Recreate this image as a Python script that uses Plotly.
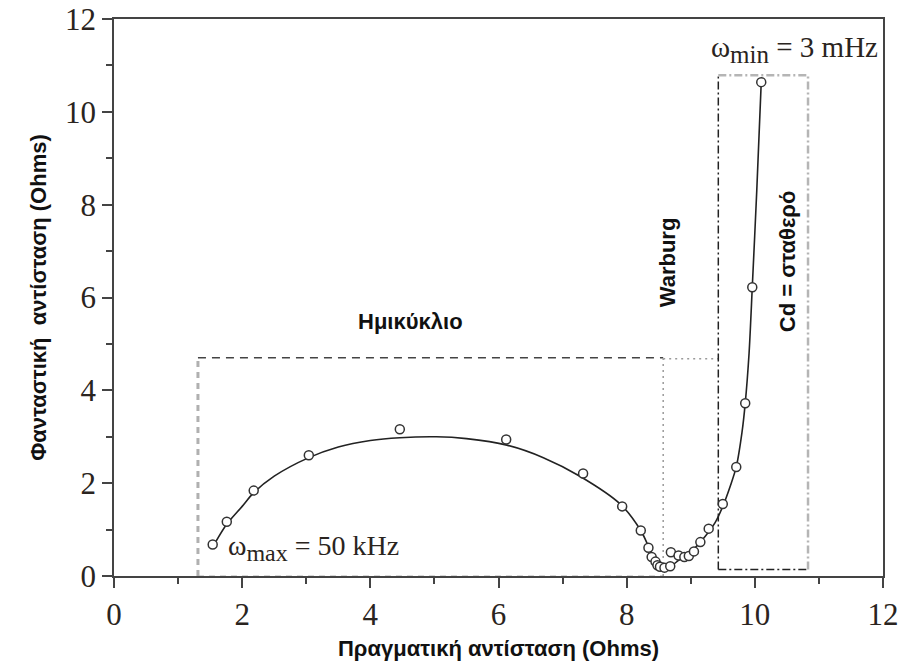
import plotly.graph_objects as go

# Measured impedance points (Nyquist plot)
z_real = [1.54, 1.76, 2.18, 3.04, 4.46, 6.12, 7.32, 7.93, 8.22, 8.34, 8.39, 8.45, 8.48,
          8.52, 8.59, 8.68, 8.69, 8.81, 8.90, 8.97, 9.05, 9.15, 9.28, 9.50, 9.71, 9.85,
          9.96, 10.10]
z_imag = [0.68, 1.17, 1.84, 2.60, 3.16, 2.94, 2.21, 1.50, 0.98, 0.61, 0.41, 0.31, 0.23,
          0.20, 0.18, 0.21, 0.51, 0.44, 0.41, 0.43, 0.53, 0.73, 1.02, 1.55, 2.35, 3.72,
          6.22, 10.64]

# Fitted model curve
fit_real = [1.58, 1.75, 2.00, 2.17, 2.50, 3.04, 3.50, 4.00, 4.46, 5.03, 5.50, 6.13, 6.70,
            7.27, 7.90, 8.22, 8.34, 8.45, 8.52, 8.60, 8.70, 8.83, 9.00, 9.15, 9.38, 9.50,
            9.62, 9.71, 9.80, 9.85, 9.91, 9.96, 10.03, 10.10]
fit_imag = [0.72, 1.10, 1.50, 1.78, 2.15, 2.55, 2.78, 2.92, 2.98, 3.00, 2.96, 2.82, 2.55,
            2.15, 1.55, 0.98, 0.64, 0.32, 0.20, 0.16, 0.22, 0.36, 0.52, 0.73, 1.15, 1.50,
            1.95, 2.35, 3.10, 3.72, 4.80, 6.22, 8.30, 10.64]

# Region boundaries
semi_x = [1.31, 8.57]
semi_top = 4.70
warb_x = [8.57, 9.43]
warb_top = 4.68
cd_x = [9.43, 10.83]
cd_y = [0.14, 10.79]

tick_vals = [0, 2, 4, 6, 8, 10, 12]
x_title = "Πραγματική αντίσταση (Ohms)"
y_title = "Φανταστική  αντίσταση (Ohms)"

fig = go.Figure()

def seg(x, y, color, width, dash):
    fig.add_trace(go.Scatter(x=x, y=y, mode="lines", hoverinfo="skip",
                             line=dict(color=color, width=width, dash=dash),
                             showlegend=False, cliponaxis=False))

# Semicircle region box
seg([semi_x[0], semi_x[0]], [0, semi_top], "#b0b0b0", 3, "6px,5px")
seg([semi_x[0], semi_x[1]], [semi_top, semi_top], "#444444", 1.5, "8px,6px")
seg([semi_x[0], semi_x[1]], [-0.02, -0.02], "#b0b0b0", 3, "6px,5px")
# Warburg region
seg([warb_x[0], warb_x[0]], [0, warb_top], "#9a9a9a", 1.5, "2px,4px")
seg([warb_x[0], warb_x[1]], [warb_top, warb_top], "#9a9a9a", 1.5, "2px,4px")
# Cd region box
seg([cd_x[0], cd_x[0]], [cd_y[0], cd_y[1]], "#222222", 1.5, "8px,3px,2px,3px")
seg([cd_x[0], cd_x[1]], [cd_y[0], cd_y[0]], "#222222", 1.5, "8px,3px,2px,3px")
seg([cd_x[0], cd_x[1]], [cd_y[1], cd_y[1]], "#b5b5b5", 2.5, "8px,3px,2px,3px")
seg([cd_x[1], cd_x[1]], [cd_y[0], cd_y[1]], "#b5b5b5", 2.5, "8px,3px,2px,3px")

# Fit line
fig.add_trace(go.Scatter(x=fit_real, y=fit_imag, mode="lines",
                         line=dict(color="#222222", width=1.6, shape="spline", smoothing=0.8),
                         showlegend=False, hoverinfo="skip"))
# Data points
fig.add_trace(go.Scatter(x=z_real, y=z_imag, mode="markers",
                         marker=dict(symbol="circle", size=9, color="white",
                                     line=dict(color="#333333", width=1.5)),
                         showlegend=False))

sans_b = dict(family="Liberation Sans", size=22, color="#111111")
serif = dict(family="Liberation Serif", size=28, color="#2a2420")

fig.add_annotation(x=4.62, y=5.49, text="<b>Ημικύκλιο</b>", showarrow=False, font=sans_b)
fig.add_annotation(x=8.63, y=6.76, text="<b>Warburg</b>", showarrow=False, font=sans_b,
                   textangle=-90)
fig.add_annotation(x=10.5, y=6.78, text="<b>Cd = σταθερό</b>", showarrow=False, font=sans_b,
                   textangle=-90)
fig.add_annotation(x=1.75, y=0.6, showarrow=False,
                   text="ω<sub><span style='font-size:24px'>max</span></sub> = 50 kHz",
                   xanchor="left", yanchor="middle", font=serif)
fig.add_annotation(x=11.96, y=11.35, showarrow=False,
                   text="ω<sub><span style='font-size:25px'>min</span></sub> = 3 mHz",
                   xanchor="right", yanchor="middle",
                   font=dict(family="Liberation Serif", size=29, color="#2a2420"))

axis_common = dict(
    range=[0, 12], tickvals=tick_vals, ticks="outside", ticklen=10, tickwidth=1.5,
    tickcolor="#444444", showline=True, linecolor="#444444", linewidth=1.5,
    mirror=True, showgrid=False, zeroline=False, automargin=False,
    tickfont=dict(family="Liberation Serif", size=31, color="#2a2420"),
    minor=dict(dtick=1, tick0=0, ticks="outside", ticklen=6, tickwidth=1.5,
               tickcolor="#444444", showgrid=False),
)

fig.update_layout(
    width=903, height=666,
    margin=dict(l=114, r=20, t=19, b=90),
    paper_bgcolor="white", plot_bgcolor="white",
    xaxis=dict(**axis_common,
               title=dict(text="<b>" + x_title + "</b>", standoff=10,
                          font=dict(family="Liberation Sans", size=22, color="#111111"))),
    yaxis=dict(**axis_common,
               title=dict(text="<b>" + y_title + "</b>", standoff=12,
                          font=dict(family="Liberation Sans", size=22, color="#111111"))),
)

fig.write_html("out.html")
